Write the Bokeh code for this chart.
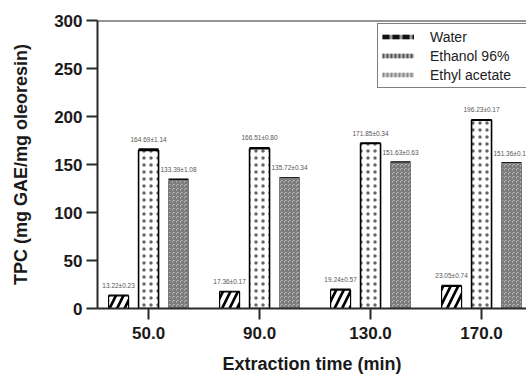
from bokeh.plotting import figure
from bokeh.models import (ColumnDataSource, Whisker, TeeHead, Span, FixedTicker,
                          PrintfTickFormatter, Range1d, Legend, LegendItem)
from bokeh.core.properties import value
from bokeh.embed import file_html
from bokeh.resources import INLINE

# ---- data ----
times = [50, 90, 130, 170]
series = ["Water", "Ethanol 96%", "Ethyl acetate"]
water_mean = [13.22, 17.36, 19.24, 23.05]
water_sd = [0.23, 0.17, 0.57, 0.74]
ethanol_mean = [164.69, 166.51, 171.85, 196.23]
ethanol_sd = [1.14, 0.80, 0.34, 0.17]
ethyl_mean = [133.39, 135.72, 151.63, 151.36]
ethyl_sd = [1.08, 0.34, 0.63, 0.12]
y_ticks = [0, 50, 100, 150, 200, 250, 300]

FONT = "Liberation Sans"
AX = "#2a2a2a"
NAN = float("nan")

p = figure(frame_width=429, frame_height=288,
           x_range=Range1d(31.6, 186.2), y_range=Range1d(0, 300),
           output_backend="svg", toolbar_location=None,
           min_border_left=97, min_border_right=0,
           min_border_top=20, min_border_bottom=70)
p.outline_line_color = None
p.grid.visible = False
p.background_fill_color = "white"
p.border_fill_color = "white"

styles = [
    dict(fill_color="black", line_color="black", line_width=1.2,
         hatch_pattern="right_diagonal_line", hatch_color="white",
         hatch_scale=15, hatch_weight=4),
    dict(fill_color="white", line_color="black", line_width=1.6,
         hatch_pattern="dot", hatch_color="#666666",
         hatch_scale=7, hatch_weight=0.8),
    dict(fill_color="white", line_color="#777777", line_width=1,
         hatch_pattern="criss_cross", hatch_color="#7a7a7a",
         hatch_scale=4, hatch_weight=1.4),
]
# legend sample styles: (base colour, dash colour, dash pattern)
legend_styles = [
    ("#9a9a9a", "#111111", "7 3"),
    ("#bbbbbb", "#555555", "2 2"),
    ("#cfcfcf", "#8a8a8a", "2 2"),
]
offsets = [-10.8, 0.0, 10.8]
means = [water_mean, ethanol_mean, ethyl_mean]
sds = [water_sd, ethanol_sd, ethyl_sd]

items = []
for name, off, m, s, st, ls in zip(series, offsets, means, sds, styles, legend_styles):
    src = ColumnDataSource(dict(
        x=[t + off for t in times], top=m,
        upper=[a + b for a, b in zip(m, s)],
        lower=[a - b for a, b in zip(m, s)],
        label=[f"{a:.2f}\u00b1{b:.2f}" for a, b in zip(m, s)],
    ))
    p.vbar(x="x", top="top", bottom=0, width=7.2, source=src, **st)
    # legend-only samples (thin patterned strips), no visible data
    l1 = p.line(x=[NAN, NAN], y=[NAN, NAN], line_color=ls[0], line_width=4.5)
    l2 = p.line(x=[NAN, NAN], y=[NAN, NAN], line_color=ls[1], line_width=4.5,
                line_dash=ls[2])
    items.append(LegendItem(label=name, renderers=[l1, l2]))
    w = Whisker(base="x", upper="upper", lower="lower", source=src,
                line_color="black", line_width=1.5,
                upper_head=TeeHead(size=20, line_color="black", line_width=2),
                lower_head=None)
    p.add_layout(w)
    p.text(x="x", y="upper", text="label", source=src,
           text_font=value(FONT), text_font_size="6.5px", text_color="#555555",
           text_align="center", text_baseline="middle", y_offset=-10)

p.add_layout(Span(location=300, dimension="width", line_color=AX, line_width=2))

legend = Legend(items=items, location=(280, 220))
legend.glyph_width = 32
legend.glyph_height = 17
legend.label_height = 17
legend.label_width = 110
legend.label_standoff = 16
legend.spacing = 2
legend.padding = 4
legend.margin = 0
legend.border_line_color = "black"
legend.border_line_width = 1.5
legend.label_text_font = FONT
legend.label_text_font_size = "14px"
legend.label_text_color = "#222222"
legend.background_fill_alpha = 1
p.add_layout(legend, "center")

for ax in (p.xaxis[0], p.yaxis[0]):
    ax.axis_line_color = AX
    ax.axis_line_width = 2
    ax.major_tick_line_color = AX
    ax.major_tick_line_width = 2
    ax.major_tick_out = 11
    ax.major_tick_in = 0
    ax.minor_tick_line_color = None
    ax.major_label_text_font = FONT
    ax.major_label_text_font_style = "bold"
    ax.major_label_text_font_size = "17px"
    ax.major_label_text_color = "#1a1a1a"
    ax.axis_label_text_font = FONT
    ax.axis_label_text_font_style = "bold"
    ax.axis_label_text_font_size = "18px"
    ax.axis_label_text_color = "#1a1a1a"

p.xaxis.ticker = FixedTicker(ticks=times)
p.xaxis.formatter = PrintfTickFormatter(format="%.1f")
p.xaxis.axis_label = "Extraction time (min)"
p.xaxis.major_label_standoff = 7
p.xaxis.axis_label_standoff = 12

p.yaxis.ticker = FixedTicker(ticks=y_ticks)
p.yaxis.axis_label = "TPC (mg GAE/mg oleoresin)"
p.yaxis.major_label_standoff = 4
p.yaxis.axis_label_standoff = 20

open("out.html", "w").write(file_html(p, INLINE))
